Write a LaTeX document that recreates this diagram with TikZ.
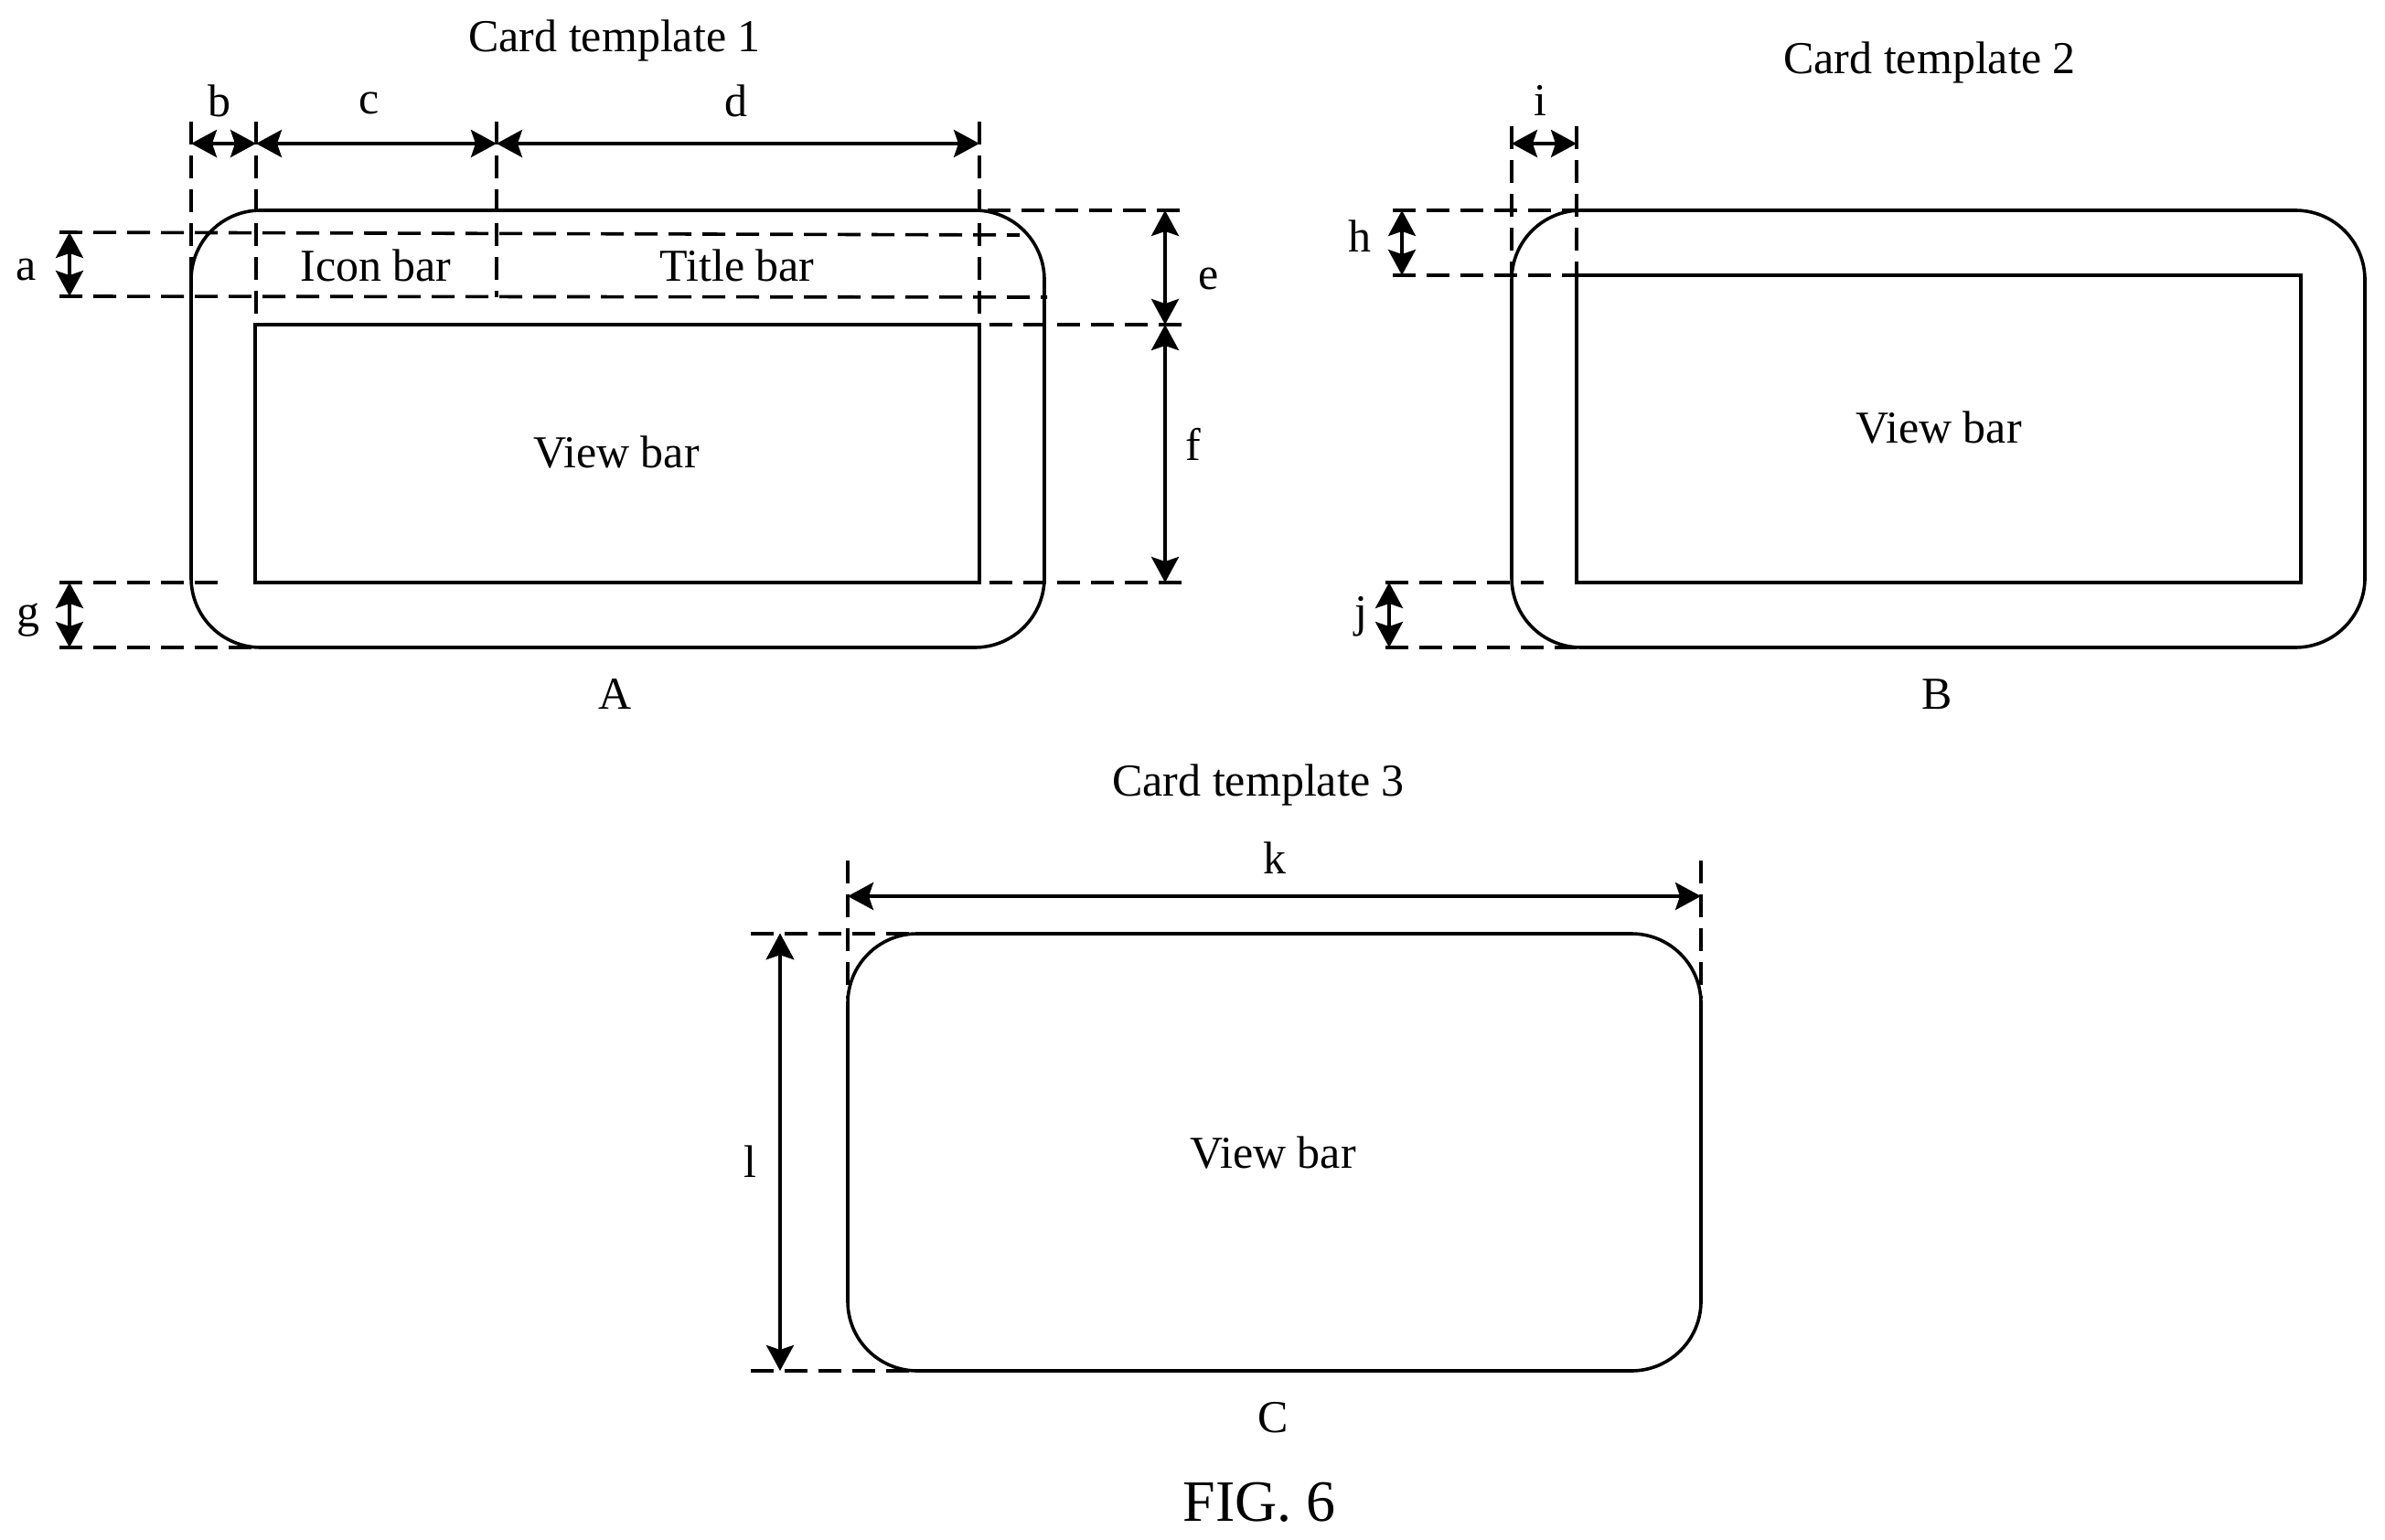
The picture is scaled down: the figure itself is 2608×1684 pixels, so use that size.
\documentclass[tikz,border=0pt]{standalone}
\usepackage{fontspec}
\setmainfont{Liberation Serif}
\usetikzlibrary{arrows.meta}

\begin{document}
\begin{tikzpicture}[x=0.5pt,y=-0.5pt,
    bar/.style={draw=black,line width=1.8pt,inner sep=0pt,outer sep=0pt},
    card/.style={bar,rounded corners=38pt,minimum width=466.5pt,minimum height=239pt},
    ext/.style={draw=black,dash pattern=on 12.5pt off 6pt,line width=1.8pt},
    dim/.style={draw=black,line width=1.8pt,{Stealth[length=14pt,width=15pt,inset=2.5pt]}-{Stealth[length=14pt,width=15pt,inset=2.5pt]}},
    txt/.style={inner sep=0pt,font=\fontsize{25}{29}\selectfont,text=black}]
  \path[use as bounding box] (0,0) rectangle (2608,1684);

  \node[card] (cardA) at (675.5,469) {};
  \node[bar,minimum width=396pt,minimum height=141pt] (viewA) at (675,496) {};
  \node[card] (cardB) at (2119.5,469) {};
  \node[bar,minimum width=396pt,minimum height=168pt] (viewB) at (2120,469) {};
  \node[card] (cardC) at (1393.5,1260) {};

  \node[txt] (t1) at (672,44) {Card template 1};
  \node[txt] (t2) at (2110,68) {Card template 2};
  \node[txt] (t3) at (1376,858) {Card template 3};
  \node[txt] (icon) at (411,290) {Icon bar};
  \node[txt] (title) at (806,290) {Title bar};
  \node[txt] (vA) at (674,495) {View bar};
  \node[txt] (vB) at (2120,468) {View bar};
  \node[txt] (vC) at (1392,1261) {View bar};
  \node[txt] (capA) at (673,759) {A};
  \node[txt] (capB) at (2118,759) {B};
  \node[txt] (capC) at (1392,1550) {C};
  \node[txt,font=\fontsize{32}{36}\selectfont] (fig) at (1377,1643) {FIG. 6};
  \node[txt] (la) at (29,295) {a};
  \node[txt] (lb) at (240,110) {b};
  \node[txt] (lc) at (404,113) {c};
  \node[txt] (ld) at (805,110) {d};
  \node[txt] (le) at (1322,305) {e};
  \node[txt] (lf) at (1305,486) {f};
  \node[txt] (lg) at (31,678) {g};
  \node[txt] (lh) at (1487,258) {h};
  \node[txt] (li) at (1684,110) {i};
  \node[txt] (lj) at (1488,674) {j};
  \node[txt] (lk) at (1394,938) {k};
  \node[txt] (ll) at (820,1270) {l};

  \coordinate (b1) at (209,157);
  \coordinate (b2) at (280,157);
  \coordinate (b3) at (543,157);
  \coordinate (b4) at (1071,157);
  \coordinate (u1) at (209,133);
  \coordinate (u2) at (280,133);
  \coordinate (u3) at (543,133);
  \coordinate (u4) at (1071,133);
  \coordinate (d1) at (209,316);
  \coordinate (d2) at (280,355);
  \coordinate (d3) at (543,325);
  \coordinate (d4) at (1071,355);
  \coordinate (a1) at (76,254);
  \coordinate (a2) at (76,324);
  \coordinate (a3) at (65,254);
  \coordinate (a4) at (65,324);
  \coordinate (a5) at (1115,257);
  \coordinate (a6) at (1145,325);
  \coordinate (e1) at (1274,230);
  \coordinate (e2) at (1274,355);
  \coordinate (e3) at (1274,637);
  \coordinate (r1) at (1293,230);
  \coordinate (r2) at (1293,355);
  \coordinate (r3) at (1293,637);
  \coordinate (r4) at (1043,230);
  \coordinate (r5) at (1045,355);
  \coordinate (r6) at (1045,637);
  \coordinate (g1) at (76,637);
  \coordinate (g2) at (76,708);
  \coordinate (g3) at (65,637);
  \coordinate (g4) at (65,708);
  \coordinate (g5) at (247,637);
  \coordinate (g6) at (282,708);

  \coordinate (i1) at (1653,157);
  \coordinate (i2) at (1724,157);
  \coordinate (i3) at (1653,138);
  \coordinate (i4) at (1724,138);
  \coordinate (i5) at (1653,301);
  \coordinate (i6) at (1724,301);
  \coordinate (h1) at (1533,230);
  \coordinate (h2) at (1533,301);
  \coordinate (h3) at (1523,230);
  \coordinate (h4) at (1523,301);
  \coordinate (h5) at (1724,230);
  \coordinate (j1) at (1519,637);
  \coordinate (j2) at (1519,708);
  \coordinate (j3) at (1515,637);
  \coordinate (j4) at (1515,708);
  \coordinate (j5) at (1689,637);
  \coordinate (j6) at (1724,708);

  \coordinate (k1) at (927,980);
  \coordinate (k2) at (1860,980);
  \coordinate (k3) at (927,941);
  \coordinate (k4) at (1860,941);
  \coordinate (k5) at (927,1092);
  \coordinate (k6) at (1860,1092);
  \coordinate (l1) at (853,1021);
  \coordinate (l2) at (853,1499);
  \coordinate (l3) at (821,1021);
  \coordinate (l4) at (821,1499);
  \coordinate (l5) at (995,1021);
  \coordinate (l6) at (995,1499);

  \path[ext] (u1) edge (d1)
             (u2) edge (d2)
             (u3) edge (d3)
             (u4) edge (d4)
             (a3) edge (a5)
             (a4) edge (a6)
             (r4) edge (r1)
             (r5) edge (r2)
             (r6) edge (r3)
             (g3) edge (g5)
             (g4) edge (g6)
             (i3) edge (i5)
             (i4) edge (i6)
             (h3) edge (h5)
             (h4) edge (i6)
             (j3) edge (j5)
             (j4) edge (j6)
             (k3) edge (k5)
             (k4) edge (k6)
             (l3) edge (l5)
             (l4) edge (l6);
  \path[dim] (b1) edge (b2)
             (b2) edge (b3)
             (b3) edge (b4)
             (a1) edge (a2)
             (e1) edge (e2)
             (e2) edge (e3)
             (g1) edge (g2)
             (i1) edge (i2)
             (h1) edge (h2)
             (j1) edge (j2)
             (k1) edge (k2)
             (l1) edge (l2);
\end{tikzpicture}
\end{document}
